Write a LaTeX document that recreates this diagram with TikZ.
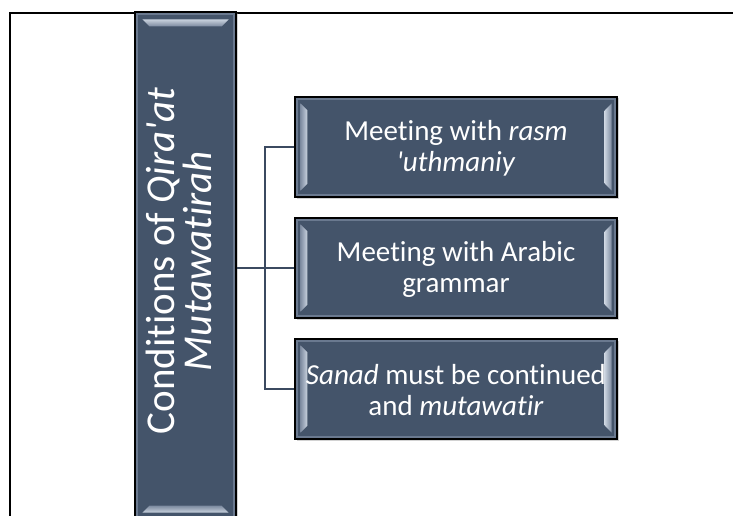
\documentclass[tikz,border=0pt]{standalone}
\usepackage{fontspec}
\setmainfont{Carlito}[Ligatures={NoCommon}]
\usepackage{graphicx}
\usetikzlibrary{calc,shadows}
\definecolor{boxc}{HTML}{44546A}
\definecolor{rimc}{HTML}{6A798F}
\definecolor{connc}{HTML}{3B4A60}
\definecolor{barlite}{HTML}{C9D2DE}
\definecolor{bardark}{HTML}{7D8BA0}
\tikzset{
  conn/.style={draw=connc, line width=2.8pt},
  boxbase/.style={fill=rimc, draw=black, line width=1.4pt,
    drop shadow={opacity=0.35, shadow xshift=1.5pt, shadow yshift=-1.5pt},
    text=white, align=center, inner sep=0pt},
  childbox/.style={boxbase, minimum width=322pt, minimum height=100pt},
  rootbox/.style={boxbase, minimum width=101pt, minimum height=508pt},
  inner/.style={fill=boxc},
  childtext/.style={text=white, align=center, font=\fontsize{29}{31}\selectfont, inner sep=0pt},
}
\begin{document}
\begin{tikzpicture}[x=1pt,y=-1pt]
\clip (0,0) rectangle (733,516);
\fill[white] (0,0) rectangle (733,516);
% frame
\draw[black, line width=2.4pt] (10,517) -- (10,13) -- (734,13);

% root box
\node[rootbox] (root) at (185.5,266) {};
\fill[inner] ($(root.north west)+(4,4)$) rectangle ($(root.south east)+(-4,-4)$);
\shade[top color=barlite, bottom color=bardark] ($(root.north west)+(8,8)$) -- ($(root.north east)+(-8,8)$) -- ($(root.north east)+(-15,15)$) -- ($(root.north west)+(15,15)$) -- cycle;
\shade[top color=bardark, bottom color=barlite] ($(root.south west)+(15,-15)$) -- ($(root.south east)+(-15,-15)$) -- ($(root.south east)+(-8,-8)$) -- ($(root.south west)+(8,-8)$) -- cycle;
\node[text=white, font=\fontsize{41}{44}\selectfont, inner sep=0pt] (rootlabel) at (184,261)
  {\rotatebox{90}{\begin{tabular}{@{}c@{}}Conditions of \textit{Qira\textquotesingle at}\\[-7pt]\textit{Mutawatirah}\end{tabular}}};

% children
\node[childbox] (c1) at (456,147) {};
\node[childbox] (c2) at (456,268) {};
\node[childbox] (c3) at (456,389) {};
\foreach \c in {c1,c2,c3}{
  \fill[inner] ($(\c.north west)+(4,4)$) rectangle ($(\c.south east)+(-4,-4)$);
  \shade[left color=bardark, right color=barlite] ($(\c.north west)+(6,7)$) -- ($(\c.north west)+(13,14)$) -- ($(\c.south west)+(13,-14)$) -- ($(\c.south west)+(6,-7)$) -- cycle;
  \shade[left color=barlite, right color=bardark] ($(\c.north east)+(-13,14)$) -- ($(\c.north east)+(-6,7)$) -- ($(\c.south east)+(-6,-7)$) -- ($(\c.south east)+(-13,-14)$) -- cycle;
}
\node[childtext] (t1) at ($(c1.center)+(0,1)$) {Meeting with \textit{rasm}\\\textit{\textquotesingle uthmaniy}};
\node[childtext] (t2) at ($(c2.center)+(0,1)$) {Meeting with Arabic\\grammar};
\node[childtext] (t3) at ($(c3.center)+(0,1)$) {\textit{Sanad} must be continued\\and \textit{mutawatir}};

% connectors
\coordinate (j) at (265,268);
\draw[conn] (root.east |- c2.west) -- (c2.west);
\draw[conn] (c1.west) -- (c1.west -| j) -- (c3.west -| j) -- (c3.west);
\end{tikzpicture}
\end{document}
